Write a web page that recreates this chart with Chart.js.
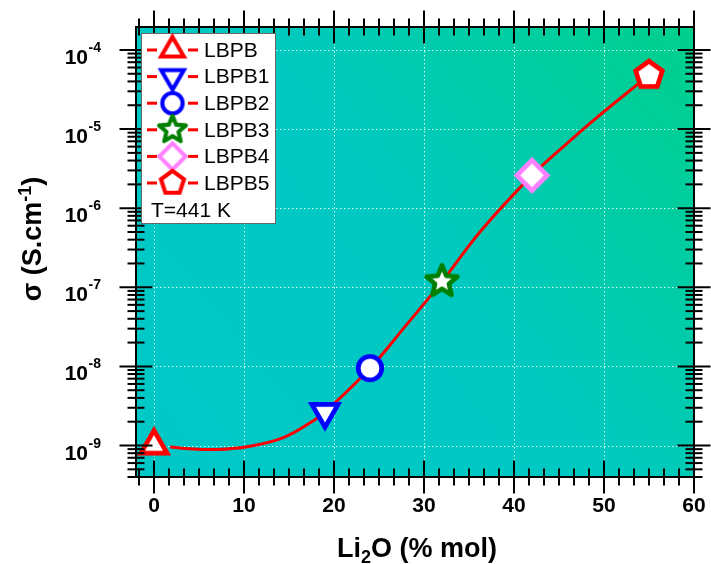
<!DOCTYPE html>
<html>
<head>
<meta charset="utf-8">
<script src="https://cdn.jsdelivr.net/npm/chart.js@4.4.0/dist/chart.umd.min.js"></script>
<style>
  html, body { margin: 0; padding: 0; background: #fff; }
  canvas { display: block; }
</style>
</head>
<body>
<canvas id="chart" width="711" height="564"></canvas>
<script>
/* ===== data ===== */

const samples = ["LBPB", "LBPB1", "LBPB2", "LBPB3", "LBPB4", "LBPB5"]
const li2o = [0, 19, 24, 32, 42, 55]
const sigma = [1.0e-9, 2.65e-9, 9.5e-9, 1.18e-7, 2.6e-6, 4.8e-5]

// fitted curve
const fitX = [1.8, 4, 6.5, 10.2, 14.3, 17.8, 19, 24, 28, 32, 36.4, 42, 45.9, 48.9, 55]
const fitY = [9.6e-10, 9.1e-10, 8.9e-10, 9.6e-10, 1.25e-9, 2.09e-9, 2.65e-9, 9.5e-9, 3.3e-8, 1.18e-7, 5.3e-7, 2.6e-6, 6.6e-6, 1.31e-5, 4.8e-5]

const xMajor = [0, 10, 20, 30, 40, 50, 60]
const xLabels = ["0", "10", "20", "30", "40", "50", "60"]
const yMajor = [1e-9, 1e-8, 1e-7, 1e-6, 1e-5, 1e-4]
const yExp = ["-9", "-8", "-7", "-6", "-5", "-4"]
const note = "T=441 K"

const shapes = ["triangle", "invtriangle", "circle", "star", "diamond", "pentagon"]
const colors = ["#ff0000", "#0000ff", "#0000ff", "#007f00", "#ff80ff", "#ff0000"]

const FONT = '"Liberation Sans", Arial, sans-serif'

/* ===== markers ===== */

function markerPath(g, shape) {
  const poly = (n, R, a0) => {
    for (let i = 0; i < n; i++) {
      const a = a0 + i * 2 * Math.PI / n
      const px = R * Math.cos(a), py = R * Math.sin(a)
      if (i) g.lineTo(px, py)
      else g.moveTo(px, py)
    }
  }
  g.beginPath()
  if (shape === "triangle") poly(3, 13.5, -Math.PI / 2)
  else if (shape === "invtriangle") poly(3, 13.5, Math.PI / 2)
  else if (shape === "circle") g.arc(0, 0, 10.5, 0, 2 * Math.PI)
  else if (shape === "diamond") poly(4, 13.5, -Math.PI / 2)
  else if (shape === "pentagon") poly(5, 12.5, -Math.PI / 2)
  else if (shape === "star") {
    for (let i = 0; i < 10; i++) {
      const R = i % 2 ? 6.5 : 14.5
      const a = -Math.PI / 2 + i * Math.PI / 5
      const px = R * Math.cos(a), py = R * Math.sin(a)
      if (i) g.lineTo(px, py)
      else g.moveTo(px, py)
    }
  }
  g.closePath()
}

function makeMarker(shape, color, s) {
  const size = 2 * Math.ceil(22 * s)
  const c = document.createElement("canvas")
  c.width = c.height = size
  const g = c.getContext("2d")
  g.translate(size / 2, size / 2)
  g.scale(s, s)
  markerPath(g, shape)
  g.fillStyle = "#fff"
  g.fill()
  g.lineWidth = 4.2
  g.strokeStyle = color
  g.lineJoin = shape === "star" ? "round" : "miter"
  g.stroke()
  return c
}

const plotMarkers = shapes.map((s, i) => makeMarker(s, colors[i], 1.12))
const legendMarkers = shapes.map((s, i) => makeMarker(s, colors[i], 0.97))

/* ===== frame, ticks, labels, legend ===== */

const frame = {
  id: "frame",

  beforeDatasetsDraw(chart) {
    const { ctx, chartArea: a, scales: { x, y } } = chart
    ctx.save()
    const grad = ctx.createLinearGradient(a.left, a.bottom, a.right, a.top)
    grad.addColorStop(0, "#00c8c8")
    grad.addColorStop(0.5, "#00c9c2")
    grad.addColorStop(1, "#00d08c")
    ctx.fillStyle = grad
    ctx.fillRect(a.left, a.top, a.right - a.left, a.bottom - a.top)

    ctx.strokeStyle = "rgba(235,255,250,0.9)"
    ctx.lineWidth = 1
    ctx.setLineDash([1.5, 2.5])
    xMajor.forEach(v => {
      const px = Math.round(x.getPixelForValue(v)) + 0.5
      ctx.beginPath(); ctx.moveTo(px, a.top); ctx.lineTo(px, a.bottom); ctx.stroke()
    })
    yMajor.forEach(v => {
      const py = Math.round(y.getPixelForValue(v)) + 0.5
      ctx.beginPath(); ctx.moveTo(a.left, py); ctx.lineTo(a.right, py); ctx.stroke()
    })
    ctx.restore()
  },

  afterDatasetsDraw(chart) {
    const { ctx, chartArea: a, scales: { x, y } } = chart
    ctx.save()
    ctx.strokeStyle = "#000"
    ctx.lineWidth = 2
    ctx.strokeRect(a.left, a.top, a.right - a.left, a.bottom - a.top)

    const seg = (x1, y1, x2, y2) => {
      ctx.beginPath(); ctx.moveTo(x1, y1); ctx.lineTo(x2, y2); ctx.stroke()
    }
    const xTick = (v, len) => {
      const px = x.getPixelForValue(v)
      seg(px, a.top - len, px, a.top + len)
      seg(px, a.bottom - len, px, a.bottom + len)
    }
    const yTick = (v, len) => {
      const py = y.getPixelForValue(v)
      seg(a.left - len, py, a.left + len, py)
      seg(a.right - len, py, a.right + len, py)
    }

    xMajor.forEach(v => xTick(v, 16.5))
    for (let m = -10; m < 60; m += 10) {
      for (let k = 1; k <= 5; k++) {
        const v = m + k * 10 / 6
        if (v >= x.min && v <= x.max) xTick(v, 8.5)
      }
    }
    yMajor.forEach(v => yTick(v, 16.5))
    for (let e = -10; e <= -4; e++) {
      for (let k = 2; k <= 9; k++) {
        const v = k * Math.pow(10, e)
        if (v >= y.min && v <= y.max) yTick(v, 8.5)
      }
    }

    // tick labels
    ctx.fillStyle = "#000"
    ctx.textBaseline = "alphabetic"
    ctx.font = "bold 21px " + FONT
    ctx.textAlign = "center"
    xMajor.forEach((v, i) => {
      ctx.fillText(xLabels[i], x.getPixelForValue(v), 512)
    })
    yMajor.forEach((v, i) => {
      const py = y.getPixelForValue(v)
      ctx.textAlign = "right"
      ctx.font = "bold 14px " + FONT
      const ew = ctx.measureText(yExp[i]).width
      ctx.fillText(yExp[i], 101, py + 2)
      ctx.font = "bold 21px " + FONT
      ctx.fillText("10", 101 - ew - 0.5, py + 14)
    })

    // x title
    const big = "bold 27px " + FONT, small = "bold 18px " + FONT
    ctx.textAlign = "left"
    ctx.font = big
    const w1 = ctx.measureText("Li").width, w3 = ctx.measureText("O (% mol)").width
    ctx.font = small
    const w2 = ctx.measureText("2").width
    let sx = 417 - (w1 + w2 + w3) / 2
    ctx.font = big; ctx.fillText("Li", sx, 557)
    ctx.font = small; ctx.fillText("2", sx + w1, 563)
    ctx.font = big; ctx.fillText("O (% mol)", sx + w1 + w2, 557)

    // y title
    ctx.save()
    ctx.translate(41, 239)
    ctx.rotate(-Math.PI / 2)
    ctx.font = big
    const t1 = ctx.measureText("\u03c3 (S.cm").width, t3 = ctx.measureText(")").width
    ctx.font = small
    const t2 = ctx.measureText("-1").width
    let tx = -(t1 + t2 + t3) / 2
    ctx.font = big; ctx.fillText("\u03c3 (S.cm", tx, 0)
    ctx.font = small; ctx.fillText("-1", tx + t1, -10)
    ctx.font = big; ctx.fillText(")", tx + t1 + t2, 0)
    ctx.restore()

    // legend
    ctx.fillStyle = "#fff"
    ctx.fillRect(141.5, 33.5, 134, 190)
    ctx.strokeStyle = "#666"
    ctx.lineWidth = 1
    ctx.strokeRect(141.5, 33.5, 134, 190)
    samples.forEach((name, i) => {
      const cy = 50 + i * 26.6
      ctx.strokeStyle = "#ff0000"
      ctx.lineWidth = 3
      seg(147, cy, 157, cy)
      seg(188, cy, 198, cy)
      const m = legendMarkers[i]
      ctx.drawImage(m, 172.5 - m.width / 2, cy - m.height / 2)
      ctx.fillStyle = "#000"
      ctx.font = "21px " + FONT
      ctx.textAlign = "left"
      ctx.textBaseline = "middle"
      ctx.fillText(name, 204, cy + 1)
    })
    ctx.fillText(note, 151, 211)
    ctx.restore()
  }
}

/* ===== chart ===== */

new Chart(document.getElementById("chart").getContext("2d"), {
  type: "scatter",
  data: {
    datasets: [
      {
        label: "samples",
        data: li2o.map((v, i) => ({ x: v, y: sigma[i] })),
        pointStyle: plotMarkers,
        pointRadius: 16,
        showLine: false
      },
      {
        label: "fit",
        data: fitX.map((v, i) => ({ x: v, y: fitY[i] })),
        showLine: true,
        borderColor: "#ff0000",
        borderWidth: 3,
        pointRadius: 0,
        tension: 0.4,
        fill: false
      }
    ]
  },
  options: {
    responsive: false,
    animation: false,
    events: [],
    layout: { padding: { left: 136, right: 14, top: 27, bottom: 87 } },
    plugins: { legend: { display: false }, tooltip: { enabled: false } },
    scales: {
      x: { type: "linear", min: -2, max: 60, display: false },
      y: { type: "logarithmic", min: 4e-10, max: 1.95e-4, display: false }
    }
  },
  plugins: [frame]
})
</script>
</body>
</html>
